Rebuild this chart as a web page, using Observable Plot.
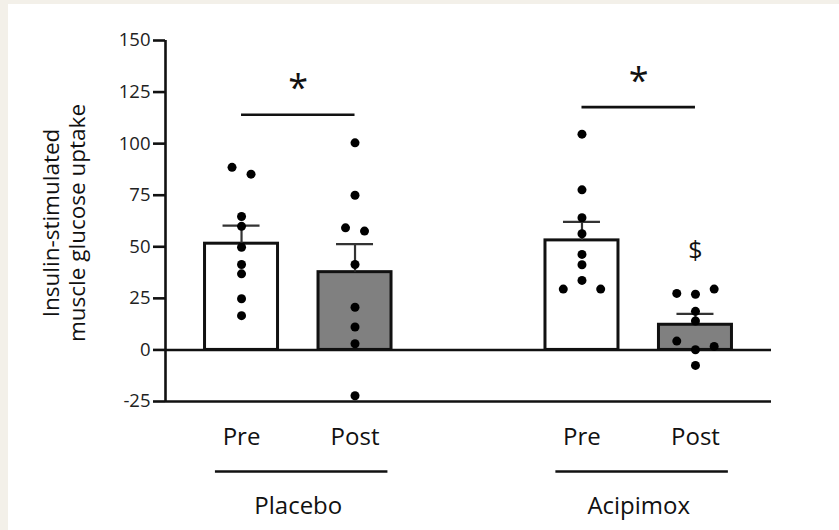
<!DOCTYPE html>
<html>
<head>
<meta charset="utf-8">
<script src="https://cdn.jsdelivr.net/npm/d3@7"></script>
<script src="https://cdn.jsdelivr.net/npm/@observablehq/plot@0.6"></script>
<style>
  html, body { margin: 0; padding: 0; background: #f3f0e9; }
  #panel { position: absolute; left: 8px; top: 4px; width: 831px; height: 526px; background: #ffffff; overflow: hidden; }
  #panel svg { display: block; }
</style>
</head>
<body>
<div id="panel"></div>
<script>
// ---- data ----
const groups = ["Placebo", "Acipimox"];
const conditions = ["Pre", "Post"];
const barMeans = [51.5, 37.7, 53.1, 12.2];      // Placebo Pre, Placebo Post, Acipimox Pre, Acipimox Post
const barSEMs  = [8.8, 13.6, 9.0, 5.3];
const placeboPre  = [88.5, 85.2, 64.7, 59.9, 49.8, 41.4, 36.9, 24.8, 16.6];
const placeboPost = [100.4, 75.0, 59.2, 57.6, 41.4, 20.7, 11.1, 3.0, -22.2];
const acipimoxPre = [104.6, 77.6, 64.1, 56.3, 46.3, 41.3, 29.5, 33.7, 29.5];
const acipimoxPost = [27.4, 27.0, 29.5, 18.7, 14.0, 4.3, 0.1, 1.7, -7.5];
const sigHeights = [114, 117.7];
const sigLabel = "*";
const postMarkLabel = "$";
const postMarkValue = 48;
const yTicks = [-25, 0, 25, 50, 75, 100, 125, 150];
const yLabel = "Insulin-stimulated\nmuscle glucose uptake";

// ---- layout ----
const W = 831, H = 526;
const mL = 157, mR = 68, mT = 36, mB = 129;
const xDomain = [-0.67, 4.67];
const yDomain = [-25, 150];
const pxPerX = (W - mL - mR) / (xDomain[1] - xDomain[0]);
const pxPerY = (H - mT - mB) / (yDomain[1] - yDomain[0]);
const barHalf = 36.5 / pxPerX;
const capHalf = 18.5 / pxPerX;
const font = "'Open Sans', sans-serif";

// slot position for group g, condition c
const slot = (g, c) => g * 3 + c;

const pointSets = [placeboPre, placeboPost, acipimoxPre, acipimoxPost];

const bars = [];
groups.forEach((g, gi) => conditions.forEach((c, ci) => {
  const k = gi * 2 + ci;
  bars.push({group: g, cond: c, x: slot(gi, ci), mean: barMeans[k], top: barMeans[k] + barSEMs[k]});
}));

// simple row-based dodge (like Prism scatter)
function dodge(values) {
  const idx = values.map((v, i) => i).sort((a, b) => values[b] - values[a]);
  const rows = [];
  let cur = null, prev = null;
  for (const i of idx) {
    if (cur && (prev - values[i]) * pxPerY < 9) cur.push(i);
    else { cur = [i]; rows.push(cur); }
    prev = values[i];
  }
  const off = new Array(values.length).fill(0);
  for (const row of rows) {
    row.sort((a, b) => a - b);
    row.forEach((i, j) => { off[i] = (j - (row.length - 1) / 2) * (row.length > 2 ? 18.7 : 19); });
  }
  return off;
}

const points = [];
bars.forEach((b, k) => {
  const vals = pointSets[k];
  const off = dodge(vals);
  vals.forEach((v, i) => points.push({x: b.x + off[i] / pxPerX, y: v}));
});

const sig = groups.map((g, gi) => ({x1: slot(gi, 0), x2: slot(gi, 1), xm: (slot(gi, 0) + slot(gi, 1)) / 2, y: sigHeights[gi]}));
const groupLines = groups.map((g, gi) => ({name: g, x1: slot(gi, 0) - 0.23, x2: slot(gi, 1) + 0.29, xm: (slot(gi, 0) + slot(gi, 1)) / 2}));

const chart = Plot.plot({
  width: W, height: H,
  marginLeft: mL, marginRight: mR, marginTop: mT, marginBottom: mB,
  x: {domain: xDomain, axis: null},
  y: {domain: yDomain, axis: null},
  style: {fontFamily: font, background: "transparent", color: "#111"},
  marks: [
    // bars
    Plot.rect(bars, {x1: d => d.x - barHalf, x2: d => d.x + barHalf, y1: 0, y2: "mean",
      fill: d => d.cond === "Pre" ? "#ffffff" : "#808080", stroke: "#111", strokeWidth: 3}),
    // error bars
    Plot.ruleX(bars, {x: "x", y1: "mean", y2: "top", stroke: "#333", strokeWidth: 2.2}),
    Plot.ruleY(bars, {y: "top", x1: d => d.x - capHalf, x2: d => d.x + capHalf, stroke: "#333", strokeWidth: 2.2}),
    // baseline & bottom line
    Plot.ruleY([0], {stroke: "#111", strokeWidth: 2.6}),
    Plot.ruleY([-25], {stroke: "#111", strokeWidth: 2.6}),
    // y axis line
    Plot.ruleX([xDomain[0]], {y1: yDomain[0], y2: yDomain[1], stroke: "#111", strokeWidth: 2.6}),
    Plot.axisY({ticks: yTicks, tickSize: 12, tickPadding: 3, fontSize: 18.5, strokeWidth: 2.6, stroke: "#111",
      tickFormat: d => String(d), label: null, fill: "#222"}),
    // points
    Plot.dot(points, {x: "x", y: "y", r: 4.5, fill: "#000", stroke: "none"}),
    // significance
    Plot.ruleY(sig, {y: "y", x1: "x1", x2: "x2", stroke: "#111", strokeWidth: 2.6}),
    Plot.text(sig, {x: "xm", y: "y", text: () => sigLabel, fontSize: 36, dy: -26, lineAnchor: "middle", fill: "#111"}),
    Plot.text([postMarkValue], {x: slot(1, 1), y: d => d, text: () => postMarkLabel, fontSize: 25, lineAnchor: "middle", fill: "#111"}),
    // category labels
    Plot.text(bars, {x: "x", y: () => -25, text: "cond", dy: 36, fontSize: 24, lineAnchor: "middle", fill: "#111"}),
    Plot.ruleY(groupLines, {y: () => -25, x1: "x1", x2: "x2", dy: 70, stroke: "#111", strokeWidth: 2.6}),
    Plot.text(groupLines, {x: "xm", y: () => -25, text: "name", dy: 105, fontSize: 24, lineAnchor: "middle", fill: "#111"}),
    // y label
    Plot.text([yLabel], {frameAnchor: "left", text: d => d, rotate: -90, dx: -102, dy: 2, fontSize: 22.5, lineHeight: 1.17, lineAnchor: "middle", textAnchor: "middle", fill: "#111"})
  ]
});
document.getElementById("panel").appendChild(chart);
</script>
</body>
</html>
